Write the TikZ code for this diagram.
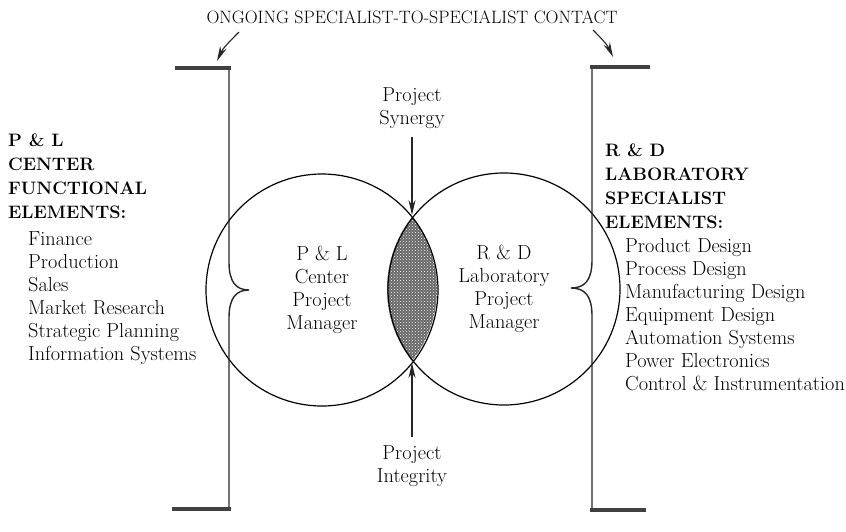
\documentclass[tikz,border=0pt]{standalone}
\usepackage{fontspec}
\usepackage{tikz}
\usetikzlibrary{arrows.meta,patterns}

\begin{document}
\begin{tikzpicture}[x=1pt,y=-1pt,
 txt/.style={font=\fontsize{20.3}{23}\selectfont,inner sep=0pt,align=center},
 ls/.style={font=\fontsize{20.3}{23}\selectfont,inner sep=0pt,align=left,anchor=north west},
 hd/.style={font=\fontsize{18}{23.8}\selectfont\bfseries,inner sep=0pt,align=left,anchor=north west},
 mgr/.style={circle,draw,line width=1.2pt,minimum size=232pt,inner sep=0pt,align=center,font=\fontsize{20.3}{23}\selectfont},
 ar/.style={-{Stealth[length=15pt,width=7pt]},line width=1.3pt,black!85},
 br/.style={line width=1.4pt,black!85},
 endbar/.style={line width=4.5pt,black!75}]
\useasboundingbox (0,0) rectangle (846,531);
\node[inner sep=0pt,font=\fontsize{17.9}{20}\selectfont] (contact) at (412,17) {ONGOING SPECIALIST-TO-SPECIALIST CONTACT};
\coordinate (la) at (239,32);
\coordinate (lb) at (217,61);
\coordinate (ra) at (593,30);
\coordinate (rb) at (613,57);
\draw[ar,line width=1.1pt] (la) to[out=225,in=65] (lb);
\draw[ar,line width=1.1pt] (ra) to[out=-45,in=115] (rb);

\begin{scope}
\clip (321,289) circle (116pt);
\fill[black!60] (503,289) circle (116pt);
\fill[pattern=crosshatch dots,pattern color=white] (503,289) circle (116pt);
\end{scope}
\node[mgr] (pl) at (322,290) {P \& L\\Center\\Project\\Manager};
\node[mgr] (rd) at (504,289) {R \& D\\Laboratory\\Project\\Manager};
\coordinate (top) at (412,216);
\coordinate (bot) at (412,362);

\node[txt] (syn) at (412,108) {Project\\Synergy};
\node[txt] (integ) at (412,466) {Project\\Integrity};
\draw[ar,shorten <=8pt,shorten >=1pt] (syn) -- (top);
\draw[ar,shorten <=8pt,shorten >=1pt] (integ) -- (bot);

\draw[br] (229,68) -- (229,262) .. controls (229,282) and (236,290) .. (249,290) .. controls (236,290) and (229,298) .. (229,318) -- (229,509);
\draw[endbar] (175,68) -- (231,68);
\draw[endbar] (172,509) -- (231,509);
\draw[br] (592,67) -- (592,260) .. controls (592,280) and (585,288) .. (571,288) .. controls (585,288) and (592,296) .. (592,316) -- (592,510);
\draw[endbar] (590,67) -- (650,67);
\draw[endbar] (590,510) -- (646,510);

\node[hd] (plhead) at (8,134) {P \& L\\CENTER\\FUNCTIONAL\\ELEMENTS:};
\node[ls] (pllist) at (28,231) {Finance\\Production\\Sales\\Market Research\\Strategic Planning\\Information Systems};
\node[hd] (rdhead) at (605,144) {R \& D\\LABORATORY\\SPECIALIST\\ELEMENTS:};
\node[ls] (rdlist) at (625,238) {Product Design\\Process Design\\Manufacturing Design\\Equipment Design\\Automation Systems\\Power Electronics\\Control \& Instrumentation};
\end{tikzpicture}
\end{document}
